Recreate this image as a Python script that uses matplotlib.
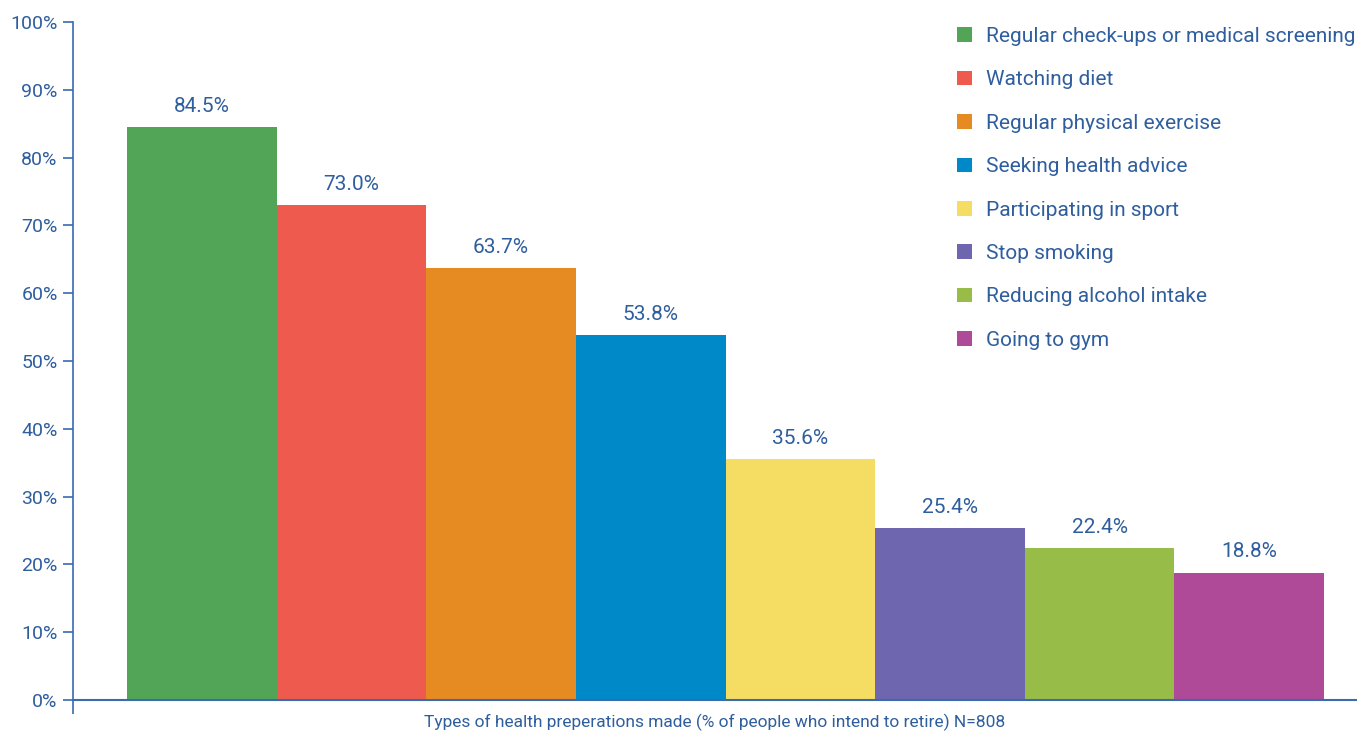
import matplotlib
matplotlib.use("Agg")
import matplotlib.pyplot as plt
from matplotlib.patches import Patch

categories = ["Regular check-ups or medical screening", "Watching diet",
              "Regular physical exercise", "Seeking health advice",
              "Participating in sport", "Stop smoking",
              "Reducing alcohol intake", "Going to gym"]
values = [84.5, 73.0, 63.7, 53.8, 35.6, 25.4, 22.4, 18.8]
colors = ["#52A457", "#EE5A4E", "#E68A22", "#0089C8",
          "#F5DD63", "#6E66AE", "#97BD48", "#AE4A97"]
yticks = list(range(0, 101, 10))
xlabel = "Types of health preperations made (% of people who intend to retire) N=808"

TXT = "#2F5E9E"
AX = "#3B6BAE"
plt.rcParams['font.family'] = ['Roboto', 'DejaVu Sans']

fig = plt.figure(figsize=(13.57, 7.34), dpi=100)
ax = fig.add_axes([73/1357, 34/734, 1 - 73/1357, (700-22)/734])

x = list(range(len(values)))
bars = ax.bar(x, values, width=1.0, color=colors, edgecolor='none', zorder=2)
for xi, v in zip(x, values):
    ax.annotate(f"{v:.1f}%", (xi, v), xytext=(0, 8), textcoords='offset points',
                ha='center', va='bottom', color=TXT, fontsize=15)

ax.set_xlim(-0.861, 7.72)
ax.set_ylim(0, 100)
ax.set_yticks(yticks)
ax.set_yticklabels([f"{t}%" for t in yticks])
ax.tick_params(axis='y', direction='out', length=7, width=1.2, color=AX,
               labelcolor=TXT, labelsize=14, pad=4)
ax.set_xticks([-0.861])
ax.set_xticklabels([""])
ax.tick_params(axis='x', direction='out', length=10, width=1.2, color=AX)
for s in ['top', 'right']:
    ax.spines[s].set_visible(False)
ax.spines['left'].set_color(AX)
ax.spines['left'].set_linewidth(1.2)
ax.spines['bottom'].set_color(AX)
ax.spines['bottom'].set_linewidth(1.5)
ax.spines['bottom'].set_zorder(3)
fig.text(715/1357, 1 - 722/734, xlabel, color=TXT, fontsize=12.5,
         ha='center', va='center')

handles = [Patch(facecolor=c, edgecolor='none') for c in colors]
leg = fig.legend(handles, categories, loc='upper left',
                 bbox_to_anchor=(957/1357, 1 - 27/734), frameon=False,
                 fontsize=15, handlelength=0.7, handleheight=0.7,
                 handletextpad=0.67, labelspacing=1.17, borderaxespad=0,
                 borderpad=0)
for t in leg.get_texts():
    t.set_color(TXT)

fig.savefig("out.png", dpi=100)
